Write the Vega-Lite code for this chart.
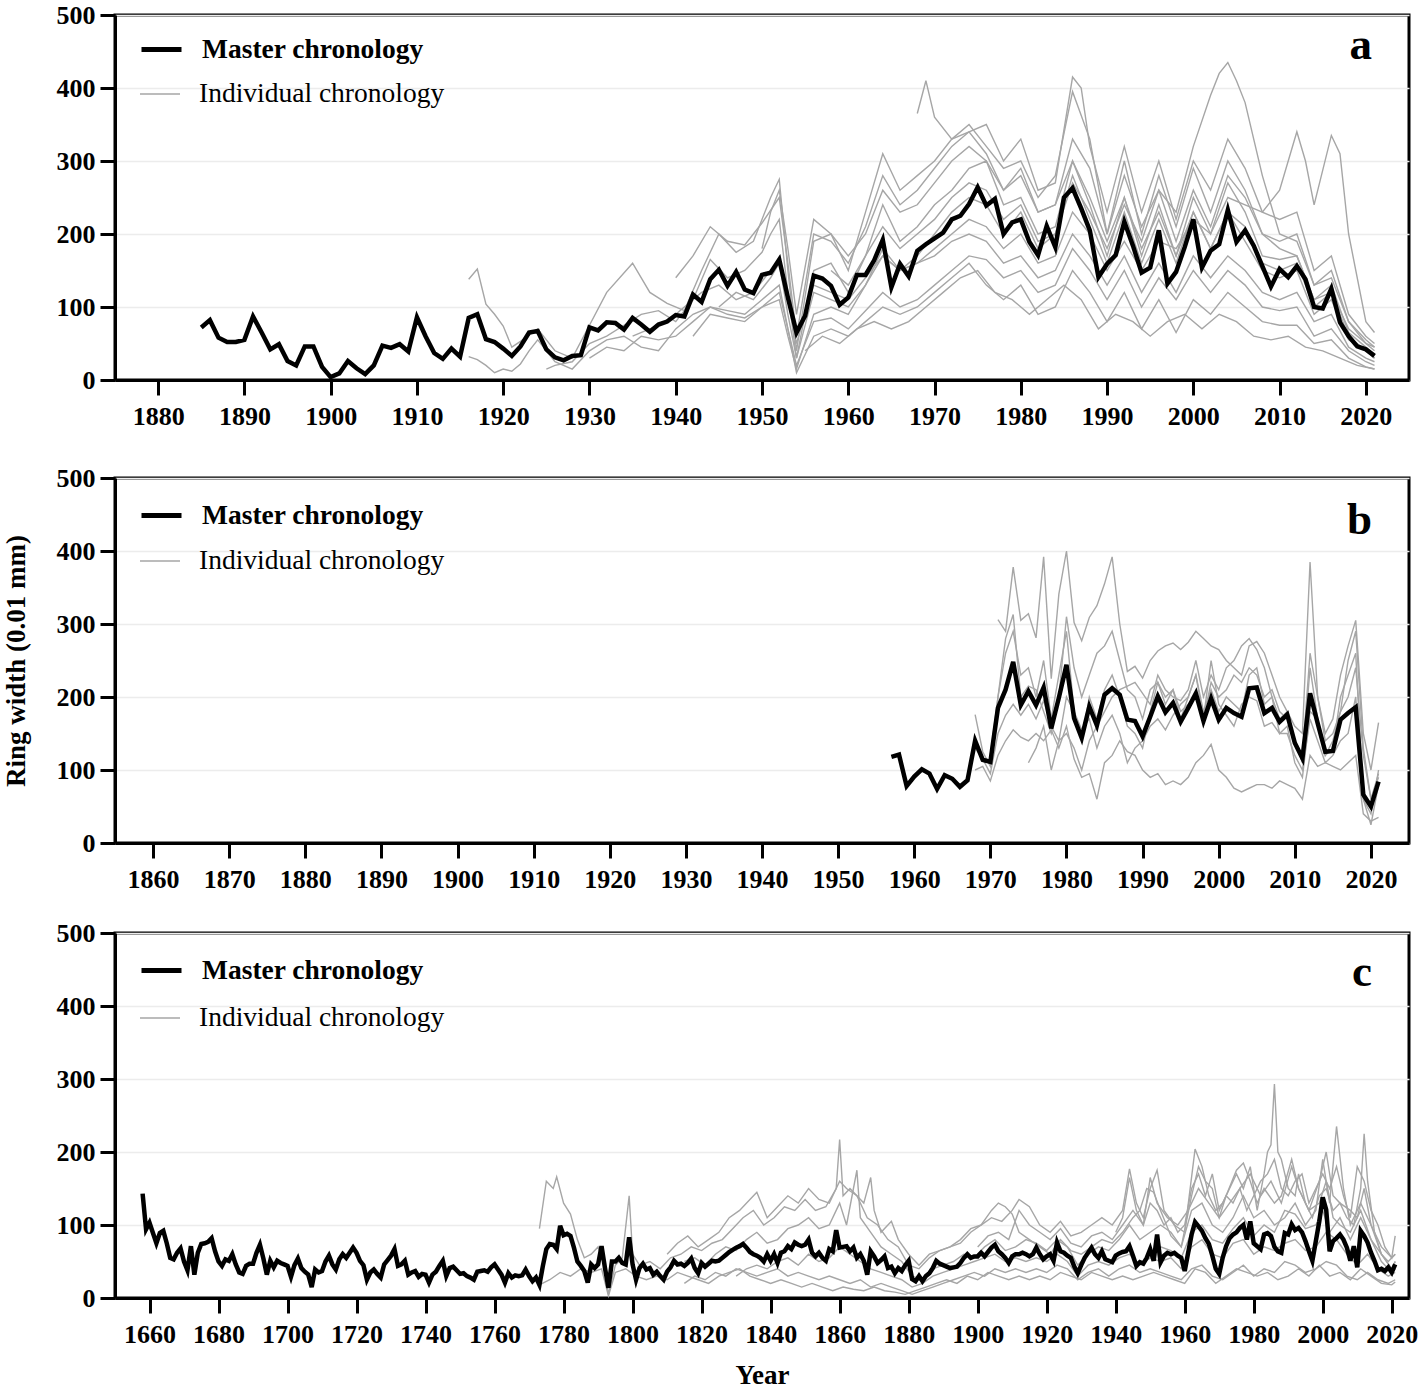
{
"$schema":"https://vega.github.io/schema/vega-lite/v6.json",
"padding":{"left":0,"top":0,"right":12,"bottom":0},
"spacing":24,
"config":{
"font":"Liberation Serif",
"view":{"stroke":"black","strokeWidth":3},
"axis":{"labelFont":"Liberation Serif","labelFontSize":26,"labelFontWeight":"bold","labelColor":"black","domainColor":"black","domainWidth":3,"tickColor":"black","tickWidth":3,"tickSize":15,"titleFont":"Liberation Serif","titleFontSize":27,"titleFontWeight":"bold","titleColor":"black","labelFlush":false,"labelOverlap":false},
"axisY":{"grid":true,"gridColor":"#ececec","gridWidth":1.5,"labelPadding":5,"titlePadding":26},
"axisX":{"grid":false,"labelPadding":8,"titlePadding":15},
"legend":{"orient":"none","legendX":24,"symbolType":"stroke","symbolSize":1600,"labelFontSize":27.5,"labelFont":"Liberation Serif","labelColor":"black","labelOffset":18,"labelLimit":500,"padding":0},
"title":{"anchor":"end","frame":"group","orient":"top","dx":-37,"baseline":"alphabetic","fontSize":45,"font":"Liberation Serif","fontWeight":"bold","color":"black"}
},
"resolve":{"scale":{"color":"independent","stroke":"independent"},"legend":{"color":"independent","stroke":"independent"}},
"datasets":{
"am":[{"x":1885,"y":72},{"x":1886,"y":82},{"x":1887,"y":58},{"x":1888,"y":52},{"x":1889,"y":52},{"x":1890,"y":55},{"x":1891,"y":87},{"x":1892,"y":65},{"x":1893,"y":42},{"x":1894,"y":49},{"x":1895,"y":26},{"x":1896,"y":20},{"x":1897,"y":46},{"x":1898,"y":46},{"x":1899,"y":18},{"x":1900,"y":4},{"x":1901,"y":9},{"x":1902,"y":26},{"x":1903,"y":16},{"x":1904,"y":8},{"x":1905,"y":20},{"x":1906,"y":47},{"x":1907,"y":44},{"x":1908,"y":49},{"x":1909,"y":39},{"x":1910,"y":86},{"x":1911,"y":60},{"x":1912,"y":37},{"x":1913,"y":29},{"x":1914,"y":43},{"x":1915,"y":32},{"x":1916,"y":85},{"x":1917,"y":90},{"x":1918,"y":56},{"x":1919,"y":52},{"x":1920,"y":43},{"x":1921,"y":33},{"x":1922,"y":46},{"x":1923,"y":65},{"x":1924,"y":67},{"x":1925,"y":42},{"x":1926,"y":31},{"x":1927,"y":27},{"x":1928,"y":33},{"x":1929,"y":34},{"x":1930,"y":72},{"x":1931,"y":68},{"x":1932,"y":79},{"x":1933,"y":78},{"x":1934,"y":69},{"x":1935,"y":85},{"x":1936,"y":76},{"x":1937,"y":66},{"x":1938,"y":76},{"x":1939,"y":80},{"x":1940,"y":89},{"x":1941,"y":87},{"x":1942,"y":117},{"x":1943,"y":107},{"x":1944,"y":138},{"x":1945,"y":151},{"x":1946,"y":129},{"x":1947,"y":148},{"x":1948,"y":124},{"x":1949,"y":119},{"x":1950,"y":144},{"x":1951,"y":147},{"x":1952,"y":165},{"x":1953,"y":113},{"x":1954,"y":65},{"x":1955,"y":88},{"x":1956,"y":143},{"x":1957,"y":139},{"x":1958,"y":129},{"x":1959,"y":103},{"x":1960,"y":113},{"x":1961,"y":144},{"x":1962,"y":144},{"x":1963,"y":164},{"x":1964,"y":192},{"x":1965,"y":127},{"x":1966,"y":159},{"x":1967,"y":142},{"x":1968,"y":177},{"x":1969,"y":186},{"x":1970,"y":194},{"x":1971,"y":202},{"x":1972,"y":220},{"x":1973,"y":225},{"x":1974,"y":241},{"x":1975,"y":264},{"x":1976,"y":239},{"x":1977,"y":248},{"x":1978,"y":200},{"x":1979,"y":216},{"x":1980,"y":220},{"x":1981,"y":189},{"x":1982,"y":171},{"x":1983,"y":211},{"x":1984,"y":182},{"x":1985,"y":250},{"x":1986,"y":263},{"x":1987,"y":235},{"x":1988,"y":205},{"x":1989,"y":141},{"x":1990,"y":159},{"x":1991,"y":171},{"x":1992,"y":217},{"x":1993,"y":184},{"x":1994,"y":147},{"x":1995,"y":154},{"x":1996,"y":205},{"x":1997,"y":132},{"x":1998,"y":148},{"x":1999,"y":182},{"x":2000,"y":220},{"x":2001,"y":154},{"x":2002,"y":177},{"x":2003,"y":186},{"x":2004,"y":233},{"x":2005,"y":189},{"x":2006,"y":205},{"x":2007,"y":184},{"x":2008,"y":156},{"x":2009,"y":128},{"x":2010,"y":152},{"x":2011,"y":141},{"x":2012,"y":156},{"x":2013,"y":138},{"x":2014,"y":100},{"x":2015,"y":98},{"x":2016,"y":125},{"x":2017,"y":79},{"x":2018,"y":60},{"x":2019,"y":46},{"x":2020,"y":42},{"x":2021,"y":33}],
"ai":[
{"s":1,"x":1916,"y":138},{"s":1,"x":1917,"y":152},{"s":1,"x":1918,"y":104},{"s":1,"x":1919,"y":90},{"s":1,"x":1920,"y":74},{"s":1,"x":1921,"y":45},{"s":1,"x":1922,"y":53},{"s":1,"x":1924,"y":70},{"s":1,"x":1926,"y":40},{"s":1,"x":1928,"y":30},{"s":1,"x":1930,"y":75},{"s":1,"x":1932,"y":120},{"s":1,"x":1935,"y":160},{"s":1,"x":1937,"y":120},{"s":1,"x":1939,"y":105},{"s":1,"x":1941,"y":95},{"s":1,"x":1943,"y":150},{"s":1,"x":1945,"y":200},{"s":1,"x":1947,"y":175},{"s":1,"x":1949,"y":190},{"s":1,"x":1951,"y":250},{"s":1,"x":1952,"y":275},{"s":1,"x":1953,"y":150},{"s":1,"x":1954,"y":40},{"s":1,"x":1956,"y":190},{"s":1,"x":1958,"y":200},{"s":1,"x":1960,"y":150},{"s":1,"x":1962,"y":230},{"s":1,"x":1964,"y":310},{"s":1,"x":1966,"y":260},{"s":1,"x":1968,"y":280},{"s":1,"x":1970,"y":300},{"s":1,"x":1972,"y":330},{"s":1,"x":1974,"y":350},{"s":1,"x":1976,"y":320},{"s":1,"x":1978,"y":290},{"s":1,"x":1980,"y":300},{"s":1,"x":1982,"y":250},{"s":1,"x":1984,"y":280},{"s":1,"x":1986,"y":395},{"s":1,"x":1988,"y":330},{"s":1,"x":1990,"y":200},{"s":1,"x":1992,"y":280},{"s":1,"x":1994,"y":210},{"s":1,"x":1996,"y":260},{"s":1,"x":1998,"y":190},{"s":1,"x":2000,"y":260},{"s":1,"x":2002,"y":210},{"s":1,"x":2004,"y":280},{"s":1,"x":2006,"y":250},{"s":1,"x":2008,"y":200},{"s":1,"x":2010,"y":180},{"s":1,"x":2012,"y":170},{"s":1,"x":2014,"y":110},{"s":1,"x":2016,"y":120},{"s":1,"x":2018,"y":70},{"s":1,"x":2020,"y":50},{"s":1,"x":2021,"y":45},
{"s":2,"x":1916,"y":32},{"s":2,"x":1917,"y":28},{"s":2,"x":1918,"y":20},{"s":2,"x":1919,"y":10},{"s":2,"x":1920,"y":15},{"s":2,"x":1921,"y":12},{"s":2,"x":1922,"y":22},{"s":2,"x":1923,"y":40},{"s":2,"x":1924,"y":55},{"s":2,"x":1926,"y":25},{"s":2,"x":1928,"y":15},{"s":2,"x":1930,"y":40},{"s":2,"x":1932,"y":55},{"s":2,"x":1934,"y":60},{"s":2,"x":1936,"y":45},{"s":2,"x":1938,"y":40},{"s":2,"x":1940,"y":70},{"s":2,"x":1942,"y":90},{"s":2,"x":1944,"y":100},{"s":2,"x":1946,"y":95},{"s":2,"x":1948,"y":90},{"s":2,"x":1950,"y":110},{"s":2,"x":1952,"y":130},{"s":2,"x":1953,"y":70},{"s":2,"x":1954,"y":20},{"s":2,"x":1956,"y":80},{"s":2,"x":1958,"y":85},{"s":2,"x":1960,"y":70},{"s":2,"x":1962,"y":95},{"s":2,"x":1964,"y":120},{"s":2,"x":1966,"y":100},{"s":2,"x":1968,"y":110},{"s":2,"x":1970,"y":130},{"s":2,"x":1972,"y":150},{"s":2,"x":1974,"y":170},{"s":2,"x":1976,"y":165},{"s":2,"x":1978,"y":140},{"s":2,"x":1980,"y":150},{"s":2,"x":1982,"y":120},{"s":2,"x":1984,"y":130},{"s":2,"x":1986,"y":180},{"s":2,"x":1988,"y":150},{"s":2,"x":1990,"y":110},{"s":2,"x":1992,"y":150},{"s":2,"x":1994,"y":100},{"s":2,"x":1996,"y":140},{"s":2,"x":1998,"y":110},{"s":2,"x":2000,"y":150},{"s":2,"x":2002,"y":120},{"s":2,"x":2004,"y":150},{"s":2,"x":2006,"y":130},{"s":2,"x":2008,"y":100},{"s":2,"x":2010,"y":95},{"s":2,"x":2012,"y":100},{"s":2,"x":2014,"y":60},{"s":2,"x":2016,"y":70},{"s":2,"x":2018,"y":40},{"s":2,"x":2020,"y":25},{"s":2,"x":2021,"y":20},
{"s":3,"x":1925,"y":15},{"s":3,"x":1926,"y":20},{"s":3,"x":1928,"y":25},{"s":3,"x":1930,"y":50},{"s":3,"x":1932,"y":60},{"s":3,"x":1934,"y":75},{"s":3,"x":1936,"y":90},{"s":3,"x":1938,"y":95},{"s":3,"x":1940,"y":80},{"s":3,"x":1942,"y":110},{"s":3,"x":1944,"y":165},{"s":3,"x":1946,"y":140},{"s":3,"x":1948,"y":150},{"s":3,"x":1950,"y":175},{"s":3,"x":1951,"y":200},{"s":3,"x":1952,"y":220},{"s":3,"x":1953,"y":120},{"s":3,"x":1954,"y":30},{"s":3,"x":1956,"y":150},{"s":3,"x":1958,"y":160},{"s":3,"x":1960,"y":120},{"s":3,"x":1962,"y":170},{"s":3,"x":1964,"y":240},{"s":3,"x":1966,"y":190},{"s":3,"x":1968,"y":210},{"s":3,"x":1970,"y":240},{"s":3,"x":1972,"y":260},{"s":3,"x":1974,"y":290},{"s":3,"x":1976,"y":300},{"s":3,"x":1978,"y":240},{"s":3,"x":1980,"y":250},{"s":3,"x":1982,"y":200},{"s":3,"x":1984,"y":210},{"s":3,"x":1986,"y":300},{"s":3,"x":1988,"y":240},{"s":3,"x":1990,"y":170},{"s":3,"x":1992,"y":250},{"s":3,"x":1994,"y":170},{"s":3,"x":1996,"y":240},{"s":3,"x":1998,"y":170},{"s":3,"x":2000,"y":250},{"s":3,"x":2002,"y":200},{"s":3,"x":2004,"y":270},{"s":3,"x":2006,"y":230},{"s":3,"x":2008,"y":170},{"s":3,"x":2010,"y":165},{"s":3,"x":2012,"y":170},{"s":3,"x":2014,"y":110},{"s":3,"x":2016,"y":130},{"s":3,"x":2018,"y":65},{"s":3,"x":2020,"y":45},{"s":3,"x":2021,"y":35},
{"s":4,"x":1930,"y":30},{"s":4,"x":1932,"y":45},{"s":4,"x":1934,"y":40},{"s":4,"x":1936,"y":60},{"s":4,"x":1938,"y":55},{"s":4,"x":1940,"y":60},{"s":4,"x":1942,"y":80},{"s":4,"x":1944,"y":100},{"s":4,"x":1946,"y":90},{"s":4,"x":1948,"y":85},{"s":4,"x":1950,"y":100},{"s":4,"x":1952,"y":120},{"s":4,"x":1953,"y":70},{"s":4,"x":1954,"y":10},{"s":4,"x":1956,"y":60},{"s":4,"x":1958,"y":70},{"s":4,"x":1960,"y":60},{"s":4,"x":1962,"y":80},{"s":4,"x":1964,"y":100},{"s":4,"x":1966,"y":90},{"s":4,"x":1968,"y":100},{"s":4,"x":1970,"y":120},{"s":4,"x":1972,"y":140},{"s":4,"x":1974,"y":160},{"s":4,"x":1976,"y":130},{"s":4,"x":1978,"y":110},{"s":4,"x":1980,"y":130},{"s":4,"x":1982,"y":90},{"s":4,"x":1984,"y":100},{"s":4,"x":1986,"y":150},{"s":4,"x":1988,"y":120},{"s":4,"x":1990,"y":80},{"s":4,"x":1992,"y":120},{"s":4,"x":1994,"y":70},{"s":4,"x":1996,"y":110},{"s":4,"x":1998,"y":65},{"s":4,"x":2000,"y":110},{"s":4,"x":2002,"y":90},{"s":4,"x":2004,"y":120},{"s":4,"x":2006,"y":100},{"s":4,"x":2008,"y":80},{"s":4,"x":2010,"y":75},{"s":4,"x":2012,"y":75},{"s":4,"x":2014,"y":50},{"s":4,"x":2016,"y":55},{"s":4,"x":2018,"y":30},{"s":4,"x":2020,"y":18},{"s":4,"x":2021,"y":15},
{"s":5,"x":1940,"y":140},{"s":5,"x":1942,"y":170},{"s":5,"x":1944,"y":210},{"s":5,"x":1946,"y":190},{"s":5,"x":1948,"y":185},{"s":5,"x":1950,"y":215},{"s":5,"x":1952,"y":250},{"s":5,"x":1953,"y":160},{"s":5,"x":1954,"y":60},{"s":5,"x":1956,"y":200},{"s":5,"x":1958,"y":190},{"s":5,"x":1960,"y":160},{"s":5,"x":1962,"y":210},{"s":5,"x":1964,"y":280},{"s":5,"x":1966,"y":240},{"s":5,"x":1968,"y":260},{"s":5,"x":1970,"y":290},{"s":5,"x":1972,"y":320},{"s":5,"x":1974,"y":340},{"s":5,"x":1976,"y":350},{"s":5,"x":1978,"y":300},{"s":5,"x":1980,"y":330},{"s":5,"x":1982,"y":260},{"s":5,"x":1984,"y":270},{"s":5,"x":1986,"y":415},{"s":5,"x":1987,"y":400},{"s":5,"x":1988,"y":320},{"s":5,"x":1990,"y":230},{"s":5,"x":1992,"y":320},{"s":5,"x":1994,"y":230},{"s":5,"x":1996,"y":300},{"s":5,"x":1998,"y":220},{"s":5,"x":2000,"y":300},{"s":5,"x":2002,"y":260},{"s":5,"x":2004,"y":330},{"s":5,"x":2006,"y":290},{"s":5,"x":2008,"y":230},{"s":5,"x":2010,"y":220},{"s":5,"x":2012,"y":230},{"s":5,"x":2014,"y":150},{"s":5,"x":2016,"y":170},{"s":5,"x":2018,"y":90},{"s":5,"x":2020,"y":60},{"s":5,"x":2021,"y":50},
{"s":6,"x":1942,"y":60},{"s":6,"x":1944,"y":90},{"s":6,"x":1946,"y":85},{"s":6,"x":1948,"y":80},{"s":6,"x":1950,"y":100},{"s":6,"x":1952,"y":110},{"s":6,"x":1953,"y":60},{"s":6,"x":1954,"y":15},{"s":6,"x":1956,"y":90},{"s":6,"x":1958,"y":100},{"s":6,"x":1960,"y":90},{"s":6,"x":1962,"y":130},{"s":6,"x":1964,"y":170},{"s":6,"x":1966,"y":150},{"s":6,"x":1968,"y":170},{"s":6,"x":1970,"y":200},{"s":6,"x":1972,"y":230},{"s":6,"x":1974,"y":250},{"s":6,"x":1976,"y":240},{"s":6,"x":1978,"y":200},{"s":6,"x":1980,"y":230},{"s":6,"x":1982,"y":180},{"s":6,"x":1984,"y":200},{"s":6,"x":1986,"y":270},{"s":6,"x":1988,"y":230},{"s":6,"x":1990,"y":180},{"s":6,"x":1992,"y":240},{"s":6,"x":1994,"y":190},{"s":6,"x":1996,"y":260},{"s":6,"x":1998,"y":230},{"s":6,"x":2000,"y":320},{"s":6,"x":2002,"y":390},{"s":6,"x":2003,"y":420},{"s":6,"x":2004,"y":435},{"s":6,"x":2005,"y":410},{"s":6,"x":2006,"y":380},{"s":6,"x":2008,"y":280},{"s":6,"x":2010,"y":200},{"s":6,"x":2012,"y":190},{"s":6,"x":2014,"y":130},{"s":6,"x":2016,"y":140},{"s":6,"x":2018,"y":80},{"s":6,"x":2020,"y":55},{"s":6,"x":2021,"y":45},
{"s":7,"x":1945,"y":100},{"s":7,"x":1947,"y":120},{"s":7,"x":1949,"y":110},{"s":7,"x":1951,"y":140},{"s":7,"x":1952,"y":160},{"s":7,"x":1953,"y":90},{"s":7,"x":1954,"y":30},{"s":7,"x":1956,"y":120},{"s":7,"x":1958,"y":110},{"s":7,"x":1960,"y":100},{"s":7,"x":1962,"y":130},{"s":7,"x":1964,"y":180},{"s":7,"x":1966,"y":150},{"s":7,"x":1968,"y":160},{"s":7,"x":1970,"y":180},{"s":7,"x":1972,"y":200},{"s":7,"x":1974,"y":220},{"s":7,"x":1976,"y":210},{"s":7,"x":1978,"y":180},{"s":7,"x":1980,"y":200},{"s":7,"x":1982,"y":160},{"s":7,"x":1984,"y":170},{"s":7,"x":1986,"y":230},{"s":7,"x":1988,"y":200},{"s":7,"x":1990,"y":150},{"s":7,"x":1992,"y":190},{"s":7,"x":1994,"y":150},{"s":7,"x":1996,"y":190},{"s":7,"x":1998,"y":180},{"s":7,"x":2000,"y":220},{"s":7,"x":2002,"y":200},{"s":7,"x":2004,"y":250},{"s":7,"x":2006,"y":240},{"s":7,"x":2008,"y":230},{"s":7,"x":2010,"y":260},{"s":7,"x":2012,"y":340},{"s":7,"x":2013,"y":300},{"s":7,"x":2014,"y":240},{"s":7,"x":2016,"y":335},{"s":7,"x":2017,"y":310},{"s":7,"x":2018,"y":200},{"s":7,"x":2020,"y":80},{"s":7,"x":2021,"y":65},
{"s":8,"x":1950,"y":180},{"s":8,"x":1951,"y":230},{"s":8,"x":1952,"y":260},{"s":8,"x":1953,"y":180},{"s":8,"x":1954,"y":90},{"s":8,"x":1956,"y":220},{"s":8,"x":1958,"y":200},{"s":8,"x":1960,"y":170},{"s":8,"x":1962,"y":200},{"s":8,"x":1964,"y":260},{"s":8,"x":1966,"y":230},{"s":8,"x":1968,"y":240},{"s":8,"x":1970,"y":270},{"s":8,"x":1972,"y":300},{"s":8,"x":1974,"y":320},{"s":8,"x":1976,"y":300},{"s":8,"x":1978,"y":260},{"s":8,"x":1980,"y":280},{"s":8,"x":1982,"y":230},{"s":8,"x":1984,"y":240},{"s":8,"x":1986,"y":330},{"s":8,"x":1988,"y":290},{"s":8,"x":1990,"y":200},{"s":8,"x":1992,"y":300},{"s":8,"x":1994,"y":200},{"s":8,"x":1996,"y":280},{"s":8,"x":1998,"y":210},{"s":8,"x":2000,"y":290},{"s":8,"x":2002,"y":230},{"s":8,"x":2004,"y":300},{"s":8,"x":2006,"y":260},{"s":8,"x":2008,"y":200},{"s":8,"x":2010,"y":190},{"s":8,"x":2012,"y":200},{"s":8,"x":2014,"y":130},{"s":8,"x":2016,"y":150},{"s":8,"x":2018,"y":80},{"s":8,"x":2020,"y":50},{"s":8,"x":2021,"y":40},
{"s":9,"x":1955,"y":40},{"s":9,"x":1957,"y":60},{"s":9,"x":1959,"y":50},{"s":9,"x":1961,"y":70},{"s":9,"x":1963,"y":80},{"s":9,"x":1965,"y":70},{"s":9,"x":1967,"y":80},{"s":9,"x":1969,"y":100},{"s":9,"x":1971,"y":120},{"s":9,"x":1973,"y":140},{"s":9,"x":1975,"y":150},{"s":9,"x":1977,"y":120},{"s":9,"x":1979,"y":110},{"s":9,"x":1981,"y":90},{"s":9,"x":1983,"y":110},{"s":9,"x":1985,"y":130},{"s":9,"x":1987,"y":110},{"s":9,"x":1989,"y":70},{"s":9,"x":1991,"y":90},{"s":9,"x":1993,"y":80},{"s":9,"x":1995,"y":60},{"s":9,"x":1997,"y":80},{"s":9,"x":1999,"y":90},{"s":9,"x":2001,"y":70},{"s":9,"x":2003,"y":90},{"s":9,"x":2005,"y":80},{"s":9,"x":2007,"y":60},{"s":9,"x":2009,"y":55},{"s":9,"x":2011,"y":60},{"s":9,"x":2013,"y":45},{"s":9,"x":2015,"y":40},{"s":9,"x":2017,"y":30},{"s":9,"x":2019,"y":20},{"s":9,"x":2021,"y":15},
{"s":10,"x":1968,"y":365},{"s":10,"x":1969,"y":410},{"s":10,"x":1970,"y":360},{"s":10,"x":1972,"y":330},{"s":10,"x":1974,"y":340},{"s":10,"x":1976,"y":310},{"s":10,"x":1978,"y":260},{"s":10,"x":1980,"y":290},{"s":10,"x":1982,"y":230},{"s":10,"x":1984,"y":240},{"s":10,"x":1986,"y":300},{"s":10,"x":1988,"y":250},{"s":10,"x":1990,"y":190},{"s":10,"x":1992,"y":250},{"s":10,"x":1994,"y":180},{"s":10,"x":1996,"y":230},{"s":10,"x":1998,"y":170},{"s":10,"x":2000,"y":230},{"s":10,"x":2002,"y":180},{"s":10,"x":2004,"y":230},{"s":10,"x":2006,"y":190},{"s":10,"x":2008,"y":150},{"s":10,"x":2010,"y":140},{"s":10,"x":2012,"y":150},{"s":10,"x":2014,"y":90},{"s":10,"x":2016,"y":110},{"s":10,"x":2018,"y":55},{"s":10,"x":2020,"y":40},{"s":10,"x":2021,"y":30},
{"s":11,"x":1958,"y":150},{"s":11,"x":1960,"y":130},{"s":11,"x":1962,"y":170},{"s":11,"x":1964,"y":210},{"s":11,"x":1966,"y":180},{"s":11,"x":1968,"y":200},{"s":11,"x":1970,"y":220},{"s":11,"x":1972,"y":250},{"s":11,"x":1974,"y":270},{"s":11,"x":1976,"y":260},{"s":11,"x":1978,"y":220},{"s":11,"x":1980,"y":240},{"s":11,"x":1982,"y":190},{"s":11,"x":1984,"y":200},{"s":11,"x":1986,"y":280},{"s":11,"x":1988,"y":220},{"s":11,"x":1990,"y":160},{"s":11,"x":1992,"y":230},{"s":11,"x":1994,"y":160},{"s":11,"x":1996,"y":220},{"s":11,"x":1998,"y":160},{"s":11,"x":2000,"y":230},{"s":11,"x":2002,"y":180},{"s":11,"x":2004,"y":230},{"s":11,"x":2006,"y":210},{"s":11,"x":2008,"y":160},{"s":11,"x":2010,"y":150},{"s":11,"x":2012,"y":160},{"s":11,"x":2014,"y":100},{"s":11,"x":2016,"y":120},{"s":11,"x":2018,"y":60},{"s":11,"x":2020,"y":40},{"s":11,"x":2021,"y":30},
{"s":12,"x":1935,"y":60},{"s":12,"x":1937,"y":70},{"s":12,"x":1939,"y":80},{"s":12,"x":1941,"y":100},{"s":12,"x":1943,"y":120},{"s":12,"x":1945,"y":130},{"s":12,"x":1947,"y":110},{"s":12,"x":1949,"y":120},{"s":12,"x":1951,"y":150},{"s":12,"x":1952,"y":160},{"s":12,"x":1953,"y":110},{"s":12,"x":1954,"y":50},{"s":12,"x":1956,"y":130},{"s":12,"x":1958,"y":120},{"s":12,"x":1960,"y":110},{"s":12,"x":1962,"y":140},{"s":12,"x":1964,"y":170},{"s":12,"x":1966,"y":150},{"s":12,"x":1968,"y":160},{"s":12,"x":1970,"y":170},{"s":12,"x":1972,"y":190},{"s":12,"x":1974,"y":200},{"s":12,"x":1976,"y":190},{"s":12,"x":1978,"y":160},{"s":12,"x":1980,"y":170},{"s":12,"x":1982,"y":140},{"s":12,"x":1984,"y":150},{"s":12,"x":1986,"y":200},{"s":12,"x":1988,"y":170},{"s":12,"x":1990,"y":130},{"s":12,"x":1992,"y":170},{"s":12,"x":1994,"y":120},{"s":12,"x":1996,"y":160},{"s":12,"x":1998,"y":120},{"s":12,"x":2000,"y":170},{"s":12,"x":2002,"y":140},{"s":12,"x":2004,"y":170},{"s":12,"x":2006,"y":150},{"s":12,"x":2008,"y":120},{"s":12,"x":2010,"y":110},{"s":12,"x":2012,"y":120},{"s":12,"x":2014,"y":80},{"s":12,"x":2016,"y":90},{"s":12,"x":2018,"y":45},{"s":12,"x":2020,"y":30},{"s":12,"x":2021,"y":25}],
"bm":[{"x":1957,"y":118},{"x":1958,"y":121},{"x":1959,"y":78},{"x":1960,"y":91},{"x":1961,"y":101},{"x":1962,"y":95},{"x":1963,"y":74},{"x":1964,"y":93},{"x":1965,"y":88},{"x":1966,"y":77},{"x":1967,"y":86},{"x":1968,"y":140},{"x":1969,"y":114},{"x":1970,"y":111},{"x":1971,"y":185},{"x":1972,"y":210},{"x":1973,"y":248},{"x":1974,"y":189},{"x":1975,"y":208},{"x":1976,"y":189},{"x":1977,"y":213},{"x":1978,"y":157},{"x":1979,"y":199},{"x":1980,"y":244},{"x":1981,"y":171},{"x":1982,"y":144},{"x":1983,"y":187},{"x":1984,"y":161},{"x":1985,"y":203},{"x":1986,"y":212},{"x":1987,"y":203},{"x":1988,"y":169},{"x":1989,"y":167},{"x":1990,"y":146},{"x":1991,"y":173},{"x":1992,"y":201},{"x":1993,"y":179},{"x":1994,"y":192},{"x":1995,"y":166},{"x":1996,"y":185},{"x":1997,"y":205},{"x":1998,"y":167},{"x":1999,"y":198},{"x":2000,"y":169},{"x":2001,"y":185},{"x":2002,"y":178},{"x":2003,"y":173},{"x":2004,"y":212},{"x":2005,"y":213},{"x":2006,"y":178},{"x":2007,"y":185},{"x":2008,"y":166},{"x":2009,"y":176},{"x":2010,"y":137},{"x":2011,"y":116},{"x":2012,"y":205},{"x":2013,"y":164},{"x":2014,"y":125},{"x":2015,"y":126},{"x":2016,"y":169},{"x":2017,"y":178},{"x":2018,"y":186},{"x":2019,"y":66},{"x":2020,"y":50},{"x":2021,"y":84}],
"bi":[
{"s":1,"x":1968,"y":176},{"s":1,"x":1969,"y":125},{"s":1,"x":1970,"y":105},{"s":1,"x":1971,"y":200},{"s":1,"x":1972,"y":260},{"s":1,"x":1973,"y":290},{"s":1,"x":1974,"y":230},{"s":1,"x":1975,"y":240},{"s":1,"x":1976,"y":200},{"s":1,"x":1977,"y":250},{"s":1,"x":1978,"y":170},{"s":1,"x":1979,"y":230},{"s":1,"x":1980,"y":290},{"s":1,"x":1981,"y":180},{"s":1,"x":1982,"y":140},{"s":1,"x":1983,"y":200},{"s":1,"x":1984,"y":170},{"s":1,"x":1985,"y":210},{"s":1,"x":1986,"y":230},{"s":1,"x":1987,"y":200},{"s":1,"x":1988,"y":160},{"s":1,"x":1989,"y":150},{"s":1,"x":1990,"y":130},{"s":1,"x":1991,"y":180},{"s":1,"x":1992,"y":220},{"s":1,"x":1993,"y":190},{"s":1,"x":1994,"y":210},{"s":1,"x":1995,"y":170},{"s":1,"x":1996,"y":200},{"s":1,"x":1997,"y":230},{"s":1,"x":1998,"y":180},{"s":1,"x":1999,"y":210},{"s":1,"x":2000,"y":180},{"s":1,"x":2001,"y":200},{"s":1,"x":2002,"y":190},{"s":1,"x":2003,"y":180},{"s":1,"x":2004,"y":230},{"s":1,"x":2005,"y":240},{"s":1,"x":2006,"y":190},{"s":1,"x":2007,"y":200},{"s":1,"x":2008,"y":170},{"s":1,"x":2009,"y":180},{"s":1,"x":2010,"y":140},{"s":1,"x":2011,"y":110},{"s":1,"x":2012,"y":240},{"s":1,"x":2013,"y":170},{"s":1,"x":2014,"y":120},{"s":1,"x":2015,"y":130},{"s":1,"x":2016,"y":200},{"s":1,"x":2017,"y":230},{"s":1,"x":2018,"y":260},{"s":1,"x":2019,"y":60},{"s":1,"x":2020,"y":40},{"s":1,"x":2021,"y":100},
{"s":2,"x":1971,"y":306},{"s":2,"x":1972,"y":290},{"s":2,"x":1973,"y":378},{"s":2,"x":1974,"y":305},{"s":2,"x":1975,"y":314},{"s":2,"x":1976,"y":281},{"s":2,"x":1977,"y":392},{"s":2,"x":1978,"y":225},{"s":2,"x":1979,"y":341},{"s":2,"x":1980,"y":400},{"s":2,"x":1981,"y":302},{"s":2,"x":1982,"y":277},{"s":2,"x":1983,"y":309},{"s":2,"x":1984,"y":325},{"s":2,"x":1985,"y":355},{"s":2,"x":1986,"y":392},{"s":2,"x":1987,"y":300},{"s":2,"x":1988,"y":235},{"s":2,"x":1989,"y":242},{"s":2,"x":1990,"y":226},{"s":2,"x":1991,"y":250},{"s":2,"x":1992,"y":263},{"s":2,"x":1993,"y":270},{"s":2,"x":1994,"y":274},{"s":2,"x":1995,"y":265},{"s":2,"x":1996,"y":275},{"s":2,"x":1997,"y":290},{"s":2,"x":1998,"y":280},{"s":2,"x":1999,"y":270},{"s":2,"x":2000,"y":265},{"s":2,"x":2001,"y":250},{"s":2,"x":2002,"y":240},{"s":2,"x":2003,"y":230},{"s":2,"x":2004,"y":270},{"s":2,"x":2005,"y":276},{"s":2,"x":2006,"y":260},{"s":2,"x":2007,"y":230},{"s":2,"x":2008,"y":200},{"s":2,"x":2009,"y":180},{"s":2,"x":2010,"y":160},{"s":2,"x":2011,"y":150},{"s":2,"x":2012,"y":385},{"s":2,"x":2013,"y":200},{"s":2,"x":2014,"y":150},{"s":2,"x":2015,"y":170},{"s":2,"x":2016,"y":230},{"s":2,"x":2017,"y":270},{"s":2,"x":2018,"y":305},{"s":2,"x":2019,"y":150},{"s":2,"x":2020,"y":100},{"s":2,"x":2021,"y":165},
{"s":3,"x":1970,"y":120},{"s":3,"x":1971,"y":200},{"s":3,"x":1972,"y":280},{"s":3,"x":1973,"y":313},{"s":3,"x":1974,"y":200},{"s":3,"x":1975,"y":215},{"s":3,"x":1976,"y":210},{"s":3,"x":1977,"y":180},{"s":3,"x":1978,"y":150},{"s":3,"x":1979,"y":200},{"s":3,"x":1980,"y":310},{"s":3,"x":1981,"y":240},{"s":3,"x":1982,"y":200},{"s":3,"x":1983,"y":230},{"s":3,"x":1984,"y":260},{"s":3,"x":1985,"y":270},{"s":3,"x":1986,"y":290},{"s":3,"x":1987,"y":250},{"s":3,"x":1988,"y":210},{"s":3,"x":1989,"y":200},{"s":3,"x":1990,"y":170},{"s":3,"x":1991,"y":210},{"s":3,"x":1992,"y":220},{"s":3,"x":1993,"y":200},{"s":3,"x":1994,"y":210},{"s":3,"x":1995,"y":180},{"s":3,"x":1996,"y":190},{"s":3,"x":1997,"y":200},{"s":3,"x":1998,"y":170},{"s":3,"x":1999,"y":220},{"s":3,"x":2000,"y":200},{"s":3,"x":2001,"y":210},{"s":3,"x":2002,"y":230},{"s":3,"x":2003,"y":220},{"s":3,"x":2004,"y":240},{"s":3,"x":2005,"y":230},{"s":3,"x":2006,"y":200},{"s":3,"x":2007,"y":210},{"s":3,"x":2008,"y":180},{"s":3,"x":2009,"y":170},{"s":3,"x":2010,"y":140},{"s":3,"x":2011,"y":120},{"s":3,"x":2012,"y":260},{"s":3,"x":2013,"y":200},{"s":3,"x":2014,"y":140},{"s":3,"x":2015,"y":150},{"s":3,"x":2016,"y":180},{"s":3,"x":2017,"y":200},{"s":3,"x":2018,"y":240},{"s":3,"x":2019,"y":120},{"s":3,"x":2020,"y":60},{"s":3,"x":2021,"y":95},
{"s":4,"x":1968,"y":100},{"s":4,"x":1969,"y":105},{"s":4,"x":1970,"y":85},{"s":4,"x":1971,"y":120},{"s":4,"x":1972,"y":140},{"s":4,"x":1973,"y":155},{"s":4,"x":1974,"y":145},{"s":4,"x":1975,"y":140},{"s":4,"x":1976,"y":150},{"s":4,"x":1977,"y":140},{"s":4,"x":1978,"y":155},{"s":4,"x":1979,"y":130},{"s":4,"x":1980,"y":160},{"s":4,"x":1981,"y":115},{"s":4,"x":1982,"y":90},{"s":4,"x":1983,"y":95},{"s":4,"x":1984,"y":60},{"s":4,"x":1985,"y":110},{"s":4,"x":1986,"y":120},{"s":4,"x":1987,"y":140},{"s":4,"x":1988,"y":125},{"s":4,"x":1989,"y":120},{"s":4,"x":1990,"y":100},{"s":4,"x":1991,"y":90},{"s":4,"x":1992,"y":95},{"s":4,"x":1993,"y":80},{"s":4,"x":1994,"y":85},{"s":4,"x":1995,"y":80},{"s":4,"x":1996,"y":90},{"s":4,"x":1997,"y":110},{"s":4,"x":1998,"y":120},{"s":4,"x":1999,"y":135},{"s":4,"x":2000,"y":100},{"s":4,"x":2001,"y":90},{"s":4,"x":2002,"y":75},{"s":4,"x":2003,"y":70},{"s":4,"x":2004,"y":75},{"s":4,"x":2005,"y":80},{"s":4,"x":2006,"y":80},{"s":4,"x":2007,"y":75},{"s":4,"x":2008,"y":85},{"s":4,"x":2009,"y":80},{"s":4,"x":2010,"y":75},{"s":4,"x":2011,"y":60},{"s":4,"x":2012,"y":120},{"s":4,"x":2013,"y":105},{"s":4,"x":2014,"y":110},{"s":4,"x":2015,"y":105},{"s":4,"x":2016,"y":100},{"s":4,"x":2017,"y":110},{"s":4,"x":2018,"y":120},{"s":4,"x":2019,"y":40},{"s":4,"x":2020,"y":30},{"s":4,"x":2021,"y":35},
{"s":5,"x":1968,"y":130},{"s":5,"x":1969,"y":115},{"s":5,"x":1970,"y":95},{"s":5,"x":1971,"y":150},{"s":5,"x":1972,"y":175},{"s":5,"x":1973,"y":190},{"s":5,"x":1974,"y":175},{"s":5,"x":1975,"y":190},{"s":5,"x":1976,"y":170},{"s":5,"x":1977,"y":195},{"s":5,"x":1978,"y":160},{"s":5,"x":1979,"y":140},{"s":5,"x":1980,"y":200},{"s":5,"x":1981,"y":180},{"s":5,"x":1982,"y":155},{"s":5,"x":1983,"y":170},{"s":5,"x":1984,"y":130},{"s":5,"x":1985,"y":160},{"s":5,"x":1986,"y":175},{"s":5,"x":1987,"y":150},{"s":5,"x":1988,"y":110},{"s":5,"x":1989,"y":130},{"s":5,"x":1990,"y":140},{"s":5,"x":1991,"y":160},{"s":5,"x":1992,"y":170},{"s":5,"x":1993,"y":155},{"s":5,"x":1994,"y":175},{"s":5,"x":1995,"y":190},{"s":5,"x":1996,"y":200},{"s":5,"x":1997,"y":230},{"s":5,"x":1998,"y":170},{"s":5,"x":1999,"y":250},{"s":5,"x":2000,"y":190},{"s":5,"x":2001,"y":175},{"s":5,"x":2002,"y":160},{"s":5,"x":2003,"y":190},{"s":5,"x":2004,"y":200},{"s":5,"x":2005,"y":195},{"s":5,"x":2006,"y":160},{"s":5,"x":2007,"y":165},{"s":5,"x":2008,"y":150},{"s":5,"x":2009,"y":150},{"s":5,"x":2010,"y":120},{"s":5,"x":2011,"y":100},{"s":5,"x":2012,"y":170},{"s":5,"x":2013,"y":140},{"s":5,"x":2014,"y":110},{"s":5,"x":2015,"y":120},{"s":5,"x":2016,"y":140},{"s":5,"x":2017,"y":150},{"s":5,"x":2018,"y":200},{"s":5,"x":2019,"y":60},{"s":5,"x":2020,"y":25},{"s":5,"x":2021,"y":80},
{"s":6,"x":1975,"y":110},{"s":6,"x":1976,"y":130},{"s":6,"x":1977,"y":160},{"s":6,"x":1978,"y":100},{"s":6,"x":1979,"y":140},{"s":6,"x":1980,"y":150},{"s":6,"x":1981,"y":130},{"s":6,"x":1982,"y":100},{"s":6,"x":1983,"y":140},{"s":6,"x":1984,"y":160},{"s":6,"x":1985,"y":180},{"s":6,"x":1986,"y":200},{"s":6,"x":1987,"y":210},{"s":6,"x":1988,"y":215},{"s":6,"x":1989,"y":220},{"s":6,"x":1990,"y":205},{"s":6,"x":1991,"y":190},{"s":6,"x":1992,"y":230},{"s":6,"x":1993,"y":210},{"s":6,"x":1994,"y":200},{"s":6,"x":1995,"y":195},{"s":6,"x":1996,"y":210},{"s":6,"x":1997,"y":250},{"s":6,"x":1998,"y":200},{"s":6,"x":1999,"y":230},{"s":6,"x":2000,"y":210},{"s":6,"x":2001,"y":240},{"s":6,"x":2002,"y":250},{"s":6,"x":2003,"y":270},{"s":6,"x":2004,"y":280},{"s":6,"x":2005,"y":265},{"s":6,"x":2006,"y":240},{"s":6,"x":2007,"y":200},{"s":6,"x":2008,"y":150},{"s":6,"x":2009,"y":160},{"s":6,"x":2010,"y":110},{"s":6,"x":2011,"y":90},{"s":6,"x":2012,"y":180},{"s":6,"x":2013,"y":170},{"s":6,"x":2014,"y":120},{"s":6,"x":2015,"y":140},{"s":6,"x":2016,"y":180},{"s":6,"x":2017,"y":250},{"s":6,"x":2018,"y":290},{"s":6,"x":2019,"y":130},{"s":6,"x":2020,"y":60},{"s":6,"x":2021,"y":90}],
"cm":[{"x":1658,"y":143},{"x":1659,"y":94},{"x":1660,"y":103},{"x":1661,"y":89},{"x":1662,"y":75},{"x":1663,"y":89},{"x":1664,"y":92},{"x":1665,"y":75},{"x":1666,"y":55},{"x":1667,"y":53},{"x":1668,"y":62},{"x":1669,"y":68},{"x":1670,"y":50},{"x":1671,"y":38},{"x":1672,"y":71},{"x":1673,"y":32},{"x":1674,"y":62},{"x":1675,"y":74},{"x":1676,"y":75},{"x":1677,"y":77},{"x":1678,"y":82},{"x":1679,"y":64},{"x":1680,"y":50},{"x":1681,"y":44},{"x":1682,"y":53},{"x":1683,"y":51},{"x":1684,"y":60},{"x":1685,"y":46},{"x":1686,"y":35},{"x":1687,"y":33},{"x":1688,"y":44},{"x":1689,"y":47},{"x":1690,"y":47},{"x":1691,"y":62},{"x":1692,"y":73},{"x":1693,"y":54},{"x":1694,"y":32},{"x":1695,"y":51},{"x":1696,"y":42},{"x":1697,"y":51},{"x":1698,"y":48},{"x":1699,"y":46},{"x":1700,"y":44},{"x":1701,"y":29},{"x":1702,"y":45},{"x":1703,"y":54},{"x":1704,"y":41},{"x":1705,"y":36},{"x":1706,"y":32},{"x":1707,"y":15},{"x":1708,"y":39},{"x":1709,"y":35},{"x":1710,"y":37},{"x":1711,"y":50},{"x":1712,"y":58},{"x":1713,"y":46},{"x":1714,"y":39},{"x":1715,"y":53},{"x":1716,"y":60},{"x":1717,"y":55},{"x":1718,"y":62},{"x":1719,"y":69},{"x":1720,"y":62},{"x":1721,"y":51},{"x":1722,"y":45},{"x":1723,"y":25},{"x":1724,"y":35},{"x":1725,"y":39},{"x":1726,"y":33},{"x":1727,"y":28},{"x":1728,"y":46},{"x":1729,"y":52},{"x":1730,"y":58},{"x":1731,"y":67},{"x":1732,"y":44},{"x":1733,"y":46},{"x":1734,"y":51},{"x":1735,"y":32},{"x":1736,"y":35},{"x":1737,"y":37},{"x":1738,"y":29},{"x":1739,"y":33},{"x":1740,"y":32},{"x":1741,"y":21},{"x":1742,"y":32},{"x":1743,"y":36},{"x":1744,"y":44},{"x":1745,"y":51},{"x":1746,"y":30},{"x":1747,"y":41},{"x":1748,"y":43},{"x":1749,"y":38},{"x":1750,"y":33},{"x":1751,"y":34},{"x":1752,"y":30},{"x":1753,"y":28},{"x":1754,"y":25},{"x":1755,"y":36},{"x":1756,"y":37},{"x":1757,"y":38},{"x":1758,"y":36},{"x":1759,"y":42},{"x":1760,"y":46},{"x":1761,"y":39},{"x":1762,"y":32},{"x":1763,"y":21},{"x":1764,"y":34},{"x":1765,"y":28},{"x":1766,"y":31},{"x":1767,"y":30},{"x":1768,"y":31},{"x":1769,"y":39},{"x":1770,"y":30},{"x":1771,"y":23},{"x":1772,"y":28},{"x":1773,"y":18},{"x":1774,"y":44},{"x":1775,"y":67},{"x":1776,"y":74},{"x":1777,"y":73},{"x":1778,"y":67},{"x":1779,"y":99},{"x":1780,"y":86},{"x":1781,"y":88},{"x":1782,"y":85},{"x":1783,"y":69},{"x":1784,"y":50},{"x":1785,"y":44},{"x":1786,"y":37},{"x":1787,"y":21},{"x":1788,"y":46},{"x":1789,"y":41},{"x":1790,"y":46},{"x":1791,"y":71},{"x":1792,"y":41},{"x":1793,"y":14},{"x":1794,"y":50},{"x":1795,"y":50},{"x":1796,"y":55},{"x":1797,"y":48},{"x":1798,"y":46},{"x":1799,"y":83},{"x":1800,"y":46},{"x":1801,"y":25},{"x":1802,"y":41},{"x":1803,"y":47},{"x":1804,"y":39},{"x":1805,"y":41},{"x":1806,"y":32},{"x":1807,"y":36},{"x":1808,"y":30},{"x":1809,"y":25},{"x":1810,"y":36},{"x":1811,"y":42},{"x":1812,"y":51},{"x":1813,"y":46},{"x":1814,"y":47},{"x":1815,"y":44},{"x":1816,"y":48},{"x":1817,"y":54},{"x":1818,"y":41},{"x":1819,"y":34},{"x":1820,"y":48},{"x":1821,"y":43},{"x":1822,"y":47},{"x":1823,"y":51},{"x":1824,"y":50},{"x":1825,"y":51},{"x":1826,"y":55},{"x":1827,"y":59},{"x":1828,"y":63},{"x":1829,"y":66},{"x":1830,"y":69},{"x":1831,"y":71},{"x":1832,"y":74},{"x":1833,"y":69},{"x":1834,"y":63},{"x":1835,"y":60},{"x":1836,"y":58},{"x":1837,"y":55},{"x":1838,"y":50},{"x":1839,"y":60},{"x":1840,"y":51},{"x":1841,"y":60},{"x":1842,"y":48},{"x":1843,"y":62},{"x":1844,"y":64},{"x":1845,"y":71},{"x":1846,"y":67},{"x":1847,"y":76},{"x":1848,"y":73},{"x":1849,"y":71},{"x":1850,"y":73},{"x":1851,"y":80},{"x":1852,"y":62},{"x":1853,"y":57},{"x":1854,"y":62},{"x":1855,"y":55},{"x":1856,"y":51},{"x":1857,"y":67},{"x":1858,"y":64},{"x":1859,"y":93},{"x":1860,"y":69},{"x":1861,"y":70},{"x":1862,"y":71},{"x":1863,"y":64},{"x":1864,"y":69},{"x":1865,"y":55},{"x":1866,"y":60},{"x":1867,"y":51},{"x":1868,"y":32},{"x":1869,"y":64},{"x":1870,"y":57},{"x":1871,"y":48},{"x":1872,"y":52},{"x":1873,"y":57},{"x":1874,"y":41},{"x":1875,"y":43},{"x":1876,"y":34},{"x":1877,"y":41},{"x":1878,"y":37},{"x":1879,"y":45},{"x":1880,"y":51},{"x":1881,"y":26},{"x":1882,"y":23},{"x":1883,"y":30},{"x":1884,"y":23},{"x":1885,"y":30},{"x":1886,"y":34},{"x":1887,"y":41},{"x":1888,"y":51},{"x":1889,"y":47},{"x":1890,"y":45},{"x":1891,"y":43},{"x":1892,"y":41},{"x":1893,"y":42},{"x":1894,"y":43},{"x":1895,"y":48},{"x":1896,"y":55},{"x":1897,"y":60},{"x":1898,"y":55},{"x":1899,"y":57},{"x":1900,"y":57},{"x":1901,"y":62},{"x":1902,"y":57},{"x":1903,"y":63},{"x":1904,"y":69},{"x":1905,"y":73},{"x":1906,"y":64},{"x":1907,"y":60},{"x":1908,"y":55},{"x":1909,"y":48},{"x":1910,"y":57},{"x":1911,"y":60},{"x":1912,"y":60},{"x":1913,"y":62},{"x":1914,"y":60},{"x":1915,"y":57},{"x":1916,"y":60},{"x":1917,"y":69},{"x":1918,"y":60},{"x":1919,"y":53},{"x":1920,"y":57},{"x":1921,"y":60},{"x":1922,"y":51},{"x":1923,"y":76},{"x":1924,"y":64},{"x":1925,"y":62},{"x":1926,"y":58},{"x":1927,"y":55},{"x":1928,"y":43},{"x":1929,"y":34},{"x":1930,"y":45},{"x":1931,"y":55},{"x":1932,"y":62},{"x":1933,"y":69},{"x":1934,"y":60},{"x":1935,"y":55},{"x":1936,"y":64},{"x":1937,"y":53},{"x":1938,"y":51},{"x":1939,"y":49},{"x":1940,"y":58},{"x":1941,"y":61},{"x":1942,"y":63},{"x":1943,"y":64},{"x":1944,"y":71},{"x":1945,"y":58},{"x":1946,"y":44},{"x":1947,"y":49},{"x":1948,"y":47},{"x":1949,"y":55},{"x":1950,"y":67},{"x":1951,"y":51},{"x":1952,"y":87},{"x":1953,"y":49},{"x":1954,"y":58},{"x":1955,"y":62},{"x":1956,"y":60},{"x":1957,"y":62},{"x":1958,"y":58},{"x":1959,"y":55},{"x":1960,"y":37},{"x":1961,"y":62},{"x":1962,"y":87},{"x":1963,"y":104},{"x":1964,"y":98},{"x":1965,"y":92},{"x":1966,"y":82},{"x":1967,"y":74},{"x":1968,"y":58},{"x":1969,"y":40},{"x":1970,"y":33},{"x":1971,"y":55},{"x":1972,"y":71},{"x":1973,"y":82},{"x":1974,"y":87},{"x":1975,"y":90},{"x":1976,"y":96},{"x":1977,"y":100},{"x":1978,"y":80},{"x":1979,"y":105},{"x":1980,"y":75},{"x":1981,"y":71},{"x":1982,"y":67},{"x":1983,"y":87},{"x":1984,"y":89},{"x":1985,"y":85},{"x":1986,"y":70},{"x":1987,"y":64},{"x":1988,"y":62},{"x":1989,"y":89},{"x":1990,"y":87},{"x":1991,"y":101},{"x":1992,"y":93},{"x":1993,"y":96},{"x":1994,"y":90},{"x":1995,"y":78},{"x":1996,"y":64},{"x":1997,"y":51},{"x":1998,"y":78},{"x":1999,"y":105},{"x":2000,"y":138},{"x":2001,"y":121},{"x":2002,"y":64},{"x":2003,"y":78},{"x":2004,"y":82},{"x":2005,"y":87},{"x":2006,"y":80},{"x":2007,"y":69},{"x":2008,"y":51},{"x":2009,"y":71},{"x":2010,"y":42},{"x":2011,"y":92},{"x":2012,"y":85},{"x":2013,"y":76},{"x":2014,"y":62},{"x":2015,"y":51},{"x":2016,"y":38},{"x":2017,"y":40},{"x":2018,"y":37},{"x":2019,"y":42},{"x":2020,"y":35},{"x":2021,"y":46}],
"ci":[
{"s":1,"x":1773,"y":95},{"s":1,"x":1775,"y":160},{"s":1,"x":1777,"y":150},{"s":1,"x":1778,"y":166},{"s":1,"x":1780,"y":130},{"s":1,"x":1782,"y":115},{"s":1,"x":1784,"y":80},{"s":1,"x":1786,"y":55},{"s":1,"x":1788,"y":60},{"s":1,"x":1790,"y":70},{"s":1,"x":1792,"y":40},{"s":1,"x":1793,"y":5},{"s":1,"x":1795,"y":45},{"s":1,"x":1797,"y":55},{"s":1,"x":1799,"y":140},{"s":1,"x":1800,"y":60},{"s":1,"x":1802,"y":45},{"s":1,"x":1805,"y":50},{"s":1,"x":1808,"y":40},{"s":1,"x":1811,"y":55},{"s":1,"x":1814,"y":60},{"s":1,"x":1817,"y":70},{"s":1,"x":1820,"y":65},{"s":1,"x":1823,"y":75},{"s":1,"x":1826,"y":80},{"s":1,"x":1829,"y":95},{"s":1,"x":1832,"y":110},{"s":1,"x":1835,"y":120},{"s":1,"x":1838,"y":100},{"s":1,"x":1841,"y":110},{"s":1,"x":1844,"y":125},{"s":1,"x":1847,"y":120},{"s":1,"x":1850,"y":135},{"s":1,"x":1853,"y":120},{"s":1,"x":1856,"y":125},{"s":1,"x":1859,"y":150},{"s":1,"x":1860,"y":217},{"s":1,"x":1861,"y":140},{"s":1,"x":1863,"y":150},{"s":1,"x":1865,"y":140},{"s":1,"x":1867,"y":130},{"s":1,"x":1869,"y":165},{"s":1,"x":1870,"y":120},{"s":1,"x":1872,"y":90},{"s":1,"x":1875,"y":105},{"s":1,"x":1877,"y":80},{"s":1,"x":1880,"y":60},{"s":1,"x":1883,"y":45},{"s":1,"x":1886,"y":60},{"s":1,"x":1889,"y":65},{"s":1,"x":1892,"y":70},{"s":1,"x":1895,"y":75},{"s":1,"x":1898,"y":90},{"s":1,"x":1901,"y":100},{"s":1,"x":1904,"y":120},{"s":1,"x":1906,"y":130},{"s":1,"x":1908,"y":125},{"s":1,"x":1910,"y":115},{"s":1,"x":1912,"y":90},{"s":1,"x":1915,"y":80},{"s":1,"x":1918,"y":70},{"s":1,"x":1921,"y":60},{"s":1,"x":1924,"y":80},{"s":1,"x":1927,"y":65},{"s":1,"x":1930,"y":60},{"s":1,"x":1933,"y":70},{"s":1,"x":1936,"y":80},{"s":1,"x":1939,"y":75},{"s":1,"x":1942,"y":90},{"s":1,"x":1945,"y":110},{"s":1,"x":1947,"y":120},{"s":1,"x":1949,"y":150},{"s":1,"x":1951,"y":145},{"s":1,"x":1953,"y":120},{"s":1,"x":1956,"y":85},{"s":1,"x":1959,"y":70},{"s":1,"x":1962,"y":140},{"s":1,"x":1964,"y":180},{"s":1,"x":1966,"y":160},{"s":1,"x":1968,"y":150},{"s":1,"x":1970,"y":110},{"s":1,"x":1972,"y":140},{"s":1,"x":1975,"y":175},{"s":1,"x":1977,"y":185},{"s":1,"x":1979,"y":160},{"s":1,"x":1981,"y":130},{"s":1,"x":1983,"y":150},{"s":1,"x":1986,"y":130},{"s":1,"x":1988,"y":140},{"s":1,"x":1991,"y":190},{"s":1,"x":1993,"y":150},{"s":1,"x":1996,"y":120},{"s":1,"x":1999,"y":130},{"s":1,"x":2001,"y":160},{"s":1,"x":2003,"y":110},{"s":1,"x":2005,"y":100},{"s":1,"x":2008,"y":90},{"s":1,"x":2011,"y":120},{"s":1,"x":2014,"y":80},{"s":1,"x":2017,"y":60},{"s":1,"x":2020,"y":40},{"s":1,"x":2021,"y":50},
{"s":2,"x":1773,"y":18},{"s":2,"x":1776,"y":25},{"s":2,"x":1779,"y":35},{"s":2,"x":1782,"y":30},{"s":2,"x":1785,"y":40},{"s":2,"x":1788,"y":35},{"s":2,"x":1791,"y":40},{"s":2,"x":1793,"y":3},{"s":2,"x":1795,"y":35},{"s":2,"x":1798,"y":40},{"s":2,"x":1801,"y":30},{"s":2,"x":1804,"y":25},{"s":2,"x":1807,"y":30},{"s":2,"x":1810,"y":25},{"s":2,"x":1813,"y":35},{"s":2,"x":1816,"y":30},{"s":2,"x":1819,"y":25},{"s":2,"x":1822,"y":20},{"s":2,"x":1825,"y":30},{"s":2,"x":1828,"y":35},{"s":2,"x":1831,"y":40},{"s":2,"x":1834,"y":30},{"s":2,"x":1837,"y":25},{"s":2,"x":1840,"y":20},{"s":2,"x":1843,"y":25},{"s":2,"x":1846,"y":20},{"s":2,"x":1849,"y":15},{"s":2,"x":1852,"y":20},{"s":2,"x":1855,"y":15},{"s":2,"x":1858,"y":10},{"s":2,"x":1861,"y":15},{"s":2,"x":1864,"y":12},{"s":2,"x":1867,"y":10},{"s":2,"x":1870,"y":15},{"s":2,"x":1873,"y":10},{"s":2,"x":1876,"y":8},{"s":2,"x":1879,"y":5},{"s":2,"x":1882,"y":10},{"s":2,"x":1885,"y":15},{"s":2,"x":1888,"y":20},{"s":2,"x":1891,"y":25},{"s":2,"x":1894,"y":20},{"s":2,"x":1897,"y":30},{"s":2,"x":1900,"y":25},{"s":2,"x":1903,"y":35},{"s":2,"x":1906,"y":30},{"s":2,"x":1909,"y":25},{"s":2,"x":1912,"y":30},{"s":2,"x":1915,"y":25},{"s":2,"x":1918,"y":30},{"s":2,"x":1921,"y":25},{"s":2,"x":1924,"y":35},{"s":2,"x":1927,"y":30},{"s":2,"x":1930,"y":25},{"s":2,"x":1933,"y":35},{"s":2,"x":1936,"y":30},{"s":2,"x":1939,"y":25},{"s":2,"x":1942,"y":30},{"s":2,"x":1945,"y":25},{"s":2,"x":1948,"y":30},{"s":2,"x":1951,"y":35},{"s":2,"x":1954,"y":30},{"s":2,"x":1957,"y":25},{"s":2,"x":1960,"y":20},{"s":2,"x":1963,"y":40},{"s":2,"x":1966,"y":35},{"s":2,"x":1969,"y":20},{"s":2,"x":1972,"y":30},{"s":2,"x":1975,"y":40},{"s":2,"x":1978,"y":35},{"s":2,"x":1981,"y":30},{"s":2,"x":1984,"y":35},{"s":2,"x":1987,"y":25},{"s":2,"x":1990,"y":30},{"s":2,"x":1993,"y":40},{"s":2,"x":1996,"y":30},{"s":2,"x":1999,"y":45},{"s":2,"x":2002,"y":30},{"s":2,"x":2005,"y":35},{"s":2,"x":2008,"y":25},{"s":2,"x":2011,"y":40},{"s":2,"x":2014,"y":30},{"s":2,"x":2017,"y":20},{"s":2,"x":2020,"y":18},{"s":2,"x":2021,"y":22},
{"s":3,"x":1810,"y":60},{"s":3,"x":1813,"y":75},{"s":3,"x":1816,"y":85},{"s":3,"x":1819,"y":70},{"s":3,"x":1822,"y":80},{"s":3,"x":1825,"y":90},{"s":3,"x":1828,"y":110},{"s":3,"x":1831,"y":120},{"s":3,"x":1834,"y":135},{"s":3,"x":1836,"y":145},{"s":3,"x":1839,"y":110},{"s":3,"x":1842,"y":125},{"s":3,"x":1845,"y":140},{"s":3,"x":1848,"y":130},{"s":3,"x":1851,"y":150},{"s":3,"x":1854,"y":135},{"s":3,"x":1857,"y":130},{"s":3,"x":1860,"y":160},{"s":3,"x":1862,"y":150},{"s":3,"x":1865,"y":140},{"s":3,"x":1868,"y":110},{"s":3,"x":1871,"y":100},{"s":3,"x":1874,"y":80},{"s":3,"x":1877,"y":70},{"s":3,"x":1880,"y":45},{"s":3,"x":1883,"y":40},{"s":3,"x":1886,"y":55},{"s":3,"x":1889,"y":65},{"s":3,"x":1892,"y":70},{"s":3,"x":1895,"y":80},{"s":3,"x":1898,"y":95},{"s":3,"x":1901,"y":100},{"s":3,"x":1904,"y":110},{"s":3,"x":1907,"y":105},{"s":3,"x":1910,"y":120},{"s":3,"x":1912,"y":135},{"s":3,"x":1915,"y":125},{"s":3,"x":1918,"y":100},{"s":3,"x":1921,"y":90},{"s":3,"x":1924,"y":105},{"s":3,"x":1927,"y":85},{"s":3,"x":1930,"y":90},{"s":3,"x":1933,"y":100},{"s":3,"x":1936,"y":110},{"s":3,"x":1939,"y":100},{"s":3,"x":1942,"y":120},{"s":3,"x":1944,"y":177},{"s":3,"x":1946,"y":130},{"s":3,"x":1948,"y":110},{"s":3,"x":1950,"y":150},{"s":3,"x":1952,"y":175},{"s":3,"x":1954,"y":120},{"s":3,"x":1957,"y":100},{"s":3,"x":1960,"y":90},{"s":3,"x":1963,"y":204},{"s":3,"x":1965,"y":180},{"s":3,"x":1967,"y":140},{"s":3,"x":1969,"y":120},{"s":3,"x":1971,"y":130},{"s":3,"x":1973,"y":150},{"s":3,"x":1975,"y":170},{"s":3,"x":1977,"y":150},{"s":3,"x":1979,"y":180},{"s":3,"x":1981,"y":120},{"s":3,"x":1983,"y":170},{"s":3,"x":1984,"y":200},{"s":3,"x":1985,"y":210},{"s":3,"x":1986,"y":293},{"s":3,"x":1987,"y":200},{"s":3,"x":1988,"y":190},{"s":3,"x":1990,"y":150},{"s":3,"x":1992,"y":140},{"s":3,"x":1993,"y":170},{"s":3,"x":1995,"y":130},{"s":3,"x":1997,"y":110},{"s":3,"x":1999,"y":140},{"s":3,"x":2001,"y":150},{"s":3,"x":2003,"y":120},{"s":3,"x":2005,"y":130},{"s":3,"x":2007,"y":110},{"s":3,"x":2009,"y":100},{"s":3,"x":2011,"y":150},{"s":3,"x":2012,"y":225},{"s":3,"x":2013,"y":160},{"s":3,"x":2015,"y":90},{"s":3,"x":2017,"y":60},{"s":3,"x":2019,"y":50},{"s":3,"x":2021,"y":60},
{"s":4,"x":1815,"y":50},{"s":4,"x":1818,"y":55},{"s":4,"x":1821,"y":45},{"s":4,"x":1824,"y":60},{"s":4,"x":1827,"y":70},{"s":4,"x":1830,"y":65},{"s":4,"x":1833,"y":80},{"s":4,"x":1836,"y":90},{"s":4,"x":1839,"y":75},{"s":4,"x":1842,"y":80},{"s":4,"x":1845,"y":95},{"s":4,"x":1848,"y":100},{"s":4,"x":1851,"y":110},{"s":4,"x":1854,"y":95},{"s":4,"x":1857,"y":100},{"s":4,"x":1859,"y":120},{"s":4,"x":1860,"y":130},{"s":4,"x":1862,"y":100},{"s":4,"x":1865,"y":175},{"s":4,"x":1866,"y":110},{"s":4,"x":1869,"y":90},{"s":4,"x":1872,"y":70},{"s":4,"x":1875,"y":60},{"s":4,"x":1878,"y":50},{"s":4,"x":1881,"y":30},{"s":4,"x":1884,"y":25},{"s":4,"x":1887,"y":40},{"s":4,"x":1890,"y":45},{"s":4,"x":1893,"y":50},{"s":4,"x":1896,"y":60},{"s":4,"x":1899,"y":55},{"s":4,"x":1902,"y":70},{"s":4,"x":1905,"y":80},{"s":4,"x":1908,"y":65},{"s":4,"x":1911,"y":70},{"s":4,"x":1914,"y":80},{"s":4,"x":1917,"y":75},{"s":4,"x":1920,"y":65},{"s":4,"x":1923,"y":80},{"s":4,"x":1926,"y":70},{"s":4,"x":1929,"y":45},{"s":4,"x":1932,"y":60},{"s":4,"x":1935,"y":70},{"s":4,"x":1938,"y":65},{"s":4,"x":1941,"y":80},{"s":4,"x":1944,"y":100},{"s":4,"x":1947,"y":80},{"s":4,"x":1950,"y":90},{"s":4,"x":1953,"y":100},{"s":4,"x":1956,"y":90},{"s":4,"x":1959,"y":70},{"s":4,"x":1962,"y":120},{"s":4,"x":1965,"y":130},{"s":4,"x":1968,"y":100},{"s":4,"x":1971,"y":90},{"s":4,"x":1974,"y":110},{"s":4,"x":1977,"y":140},{"s":4,"x":1980,"y":110},{"s":4,"x":1983,"y":120},{"s":4,"x":1986,"y":100},{"s":4,"x":1989,"y":110},{"s":4,"x":1992,"y":130},{"s":4,"x":1995,"y":100},{"s":4,"x":1998,"y":120},{"s":4,"x":2000,"y":190},{"s":4,"x":2002,"y":130},{"s":4,"x":2004,"y":235},{"s":4,"x":2006,"y":150},{"s":4,"x":2008,"y":100},{"s":4,"x":2011,"y":130},{"s":4,"x":2014,"y":100},{"s":4,"x":2017,"y":60},{"s":4,"x":2020,"y":40},{"s":4,"x":2021,"y":50},
{"s":5,"x":1830,"y":30},{"s":5,"x":1833,"y":40},{"s":5,"x":1836,"y":45},{"s":5,"x":1839,"y":40},{"s":5,"x":1842,"y":50},{"s":5,"x":1845,"y":55},{"s":5,"x":1848,"y":45},{"s":5,"x":1851,"y":60},{"s":5,"x":1854,"y":50},{"s":5,"x":1857,"y":55},{"s":5,"x":1860,"y":70},{"s":5,"x":1863,"y":60},{"s":5,"x":1866,"y":50},{"s":5,"x":1869,"y":40},{"s":5,"x":1872,"y":35},{"s":5,"x":1875,"y":30},{"s":5,"x":1878,"y":25},{"s":5,"x":1881,"y":15},{"s":5,"x":1884,"y":20},{"s":5,"x":1887,"y":30},{"s":5,"x":1890,"y":35},{"s":5,"x":1893,"y":40},{"s":5,"x":1896,"y":45},{"s":5,"x":1899,"y":50},{"s":5,"x":1902,"y":55},{"s":5,"x":1905,"y":60},{"s":5,"x":1908,"y":50},{"s":5,"x":1911,"y":55},{"s":5,"x":1914,"y":50},{"s":5,"x":1917,"y":55},{"s":5,"x":1920,"y":50},{"s":5,"x":1923,"y":60},{"s":5,"x":1926,"y":50},{"s":5,"x":1929,"y":30},{"s":5,"x":1932,"y":45},{"s":5,"x":1935,"y":50},{"s":5,"x":1938,"y":45},{"s":5,"x":1941,"y":55},{"s":5,"x":1944,"y":60},{"s":5,"x":1947,"y":45},{"s":5,"x":1950,"y":55},{"s":5,"x":1953,"y":50},{"s":5,"x":1956,"y":55},{"s":5,"x":1959,"y":40},{"s":5,"x":1962,"y":70},{"s":5,"x":1965,"y":80},{"s":5,"x":1968,"y":60},{"s":5,"x":1971,"y":55},{"s":5,"x":1974,"y":75},{"s":5,"x":1977,"y":80},{"s":5,"x":1980,"y":60},{"s":5,"x":1983,"y":70},{"s":5,"x":1986,"y":65},{"s":5,"x":1989,"y":75},{"s":5,"x":1992,"y":80},{"s":5,"x":1995,"y":65},{"s":5,"x":1998,"y":70},{"s":5,"x":2001,"y":90},{"s":5,"x":2004,"y":80},{"s":5,"x":2007,"y":60},{"s":5,"x":2010,"y":45},{"s":5,"x":2013,"y":60},{"s":5,"x":2016,"y":40},{"s":5,"x":2019,"y":30},{"s":5,"x":2021,"y":35},
{"s":6,"x":1900,"y":70},{"s":6,"x":1903,"y":85},{"s":6,"x":1906,"y":90},{"s":6,"x":1909,"y":80},{"s":6,"x":1912,"y":120},{"s":6,"x":1915,"y":100},{"s":6,"x":1918,"y":90},{"s":6,"x":1921,"y":80},{"s":6,"x":1924,"y":95},{"s":6,"x":1927,"y":75},{"s":6,"x":1930,"y":70},{"s":6,"x":1933,"y":85},{"s":6,"x":1936,"y":90},{"s":6,"x":1939,"y":80},{"s":6,"x":1942,"y":100},{"s":6,"x":1945,"y":120},{"s":6,"x":1948,"y":100},{"s":6,"x":1950,"y":165},{"s":6,"x":1952,"y":130},{"s":6,"x":1955,"y":110},{"s":6,"x":1958,"y":100},{"s":6,"x":1961,"y":120},{"s":6,"x":1964,"y":150},{"s":6,"x":1967,"y":130},{"s":6,"x":1970,"y":110},{"s":6,"x":1973,"y":130},{"s":6,"x":1976,"y":150},{"s":6,"x":1979,"y":170},{"s":6,"x":1982,"y":140},{"s":6,"x":1985,"y":160},{"s":6,"x":1988,"y":130},{"s":6,"x":1991,"y":180},{"s":6,"x":1993,"y":150},{"s":6,"x":1996,"y":120},{"s":6,"x":1999,"y":160},{"s":6,"x":2001,"y":200},{"s":6,"x":2003,"y":140},{"s":6,"x":2005,"y":130},{"s":6,"x":2008,"y":120},{"s":6,"x":2010,"y":110},{"s":6,"x":2012,"y":150},{"s":6,"x":2014,"y":100},{"s":6,"x":2017,"y":70},{"s":6,"x":2020,"y":55},{"s":6,"x":2021,"y":60},
{"s":7,"x":1940,"y":90},{"s":7,"x":1942,"y":110},{"s":7,"x":1944,"y":165},{"s":7,"x":1946,"y":120},{"s":7,"x":1948,"y":100},{"s":7,"x":1950,"y":130},{"s":7,"x":1952,"y":120},{"s":7,"x":1954,"y":100},{"s":7,"x":1956,"y":110},{"s":7,"x":1958,"y":90},{"s":7,"x":1960,"y":100},{"s":7,"x":1962,"y":150},{"s":7,"x":1964,"y":170},{"s":7,"x":1966,"y":140},{"s":7,"x":1968,"y":170},{"s":7,"x":1970,"y":120},{"s":7,"x":1972,"y":140},{"s":7,"x":1974,"y":130},{"s":7,"x":1976,"y":150},{"s":7,"x":1978,"y":120},{"s":7,"x":1980,"y":140},{"s":7,"x":1982,"y":160},{"s":7,"x":1984,"y":170},{"s":7,"x":1986,"y":190},{"s":7,"x":1988,"y":150},{"s":7,"x":1990,"y":140},{"s":7,"x":1992,"y":160},{"s":7,"x":1994,"y":170},{"s":7,"x":1996,"y":130},{"s":7,"x":1998,"y":150},{"s":7,"x":2000,"y":170},{"s":7,"x":2002,"y":150},{"s":7,"x":2004,"y":180},{"s":7,"x":2006,"y":140},{"s":7,"x":2008,"y":110},{"s":7,"x":2010,"y":180},{"s":7,"x":2012,"y":160},{"s":7,"x":2014,"y":120},{"s":7,"x":2016,"y":100},{"s":7,"x":2018,"y":70},{"s":7,"x":2020,"y":55},{"s":7,"x":2021,"y":85},
{"s":8,"x":1950,"y":60},{"s":8,"x":1953,"y":70},{"s":8,"x":1956,"y":65},{"s":8,"x":1959,"y":55},{"s":8,"x":1962,"y":90},{"s":8,"x":1965,"y":100},{"s":8,"x":1968,"y":80},{"s":8,"x":1971,"y":75},{"s":8,"x":1974,"y":95},{"s":8,"x":1977,"y":110},{"s":8,"x":1980,"y":85},{"s":8,"x":1983,"y":100},{"s":8,"x":1986,"y":90},{"s":8,"x":1989,"y":120},{"s":8,"x":1992,"y":115},{"s":8,"x":1995,"y":95},{"s":8,"x":1998,"y":100},{"s":8,"x":2000,"y":120},{"s":8,"x":2002,"y":90},{"s":8,"x":2005,"y":110},{"s":8,"x":2008,"y":80},{"s":8,"x":2011,"y":110},{"s":8,"x":2014,"y":80},{"s":8,"x":2017,"y":50},{"s":8,"x":2020,"y":35},{"s":8,"x":2021,"y":40},
{"s":9,"x":1815,"y":20},{"s":9,"x":1818,"y":30},{"s":9,"x":1821,"y":25},{"s":9,"x":1824,"y":35},{"s":9,"x":1827,"y":30},{"s":9,"x":1830,"y":40},{"s":9,"x":1833,"y":35},{"s":9,"x":1836,"y":30},{"s":9,"x":1839,"y":35},{"s":9,"x":1842,"y":40},{"s":9,"x":1845,"y":30},{"s":9,"x":1848,"y":35},{"s":9,"x":1851,"y":30},{"s":9,"x":1854,"y":25},{"s":9,"x":1857,"y":30},{"s":9,"x":1860,"y":25},{"s":9,"x":1863,"y":20},{"s":9,"x":1866,"y":25},{"s":9,"x":1869,"y":15},{"s":9,"x":1872,"y":20},{"s":9,"x":1875,"y":15},{"s":9,"x":1878,"y":10},{"s":9,"x":1881,"y":5},{"s":9,"x":1884,"y":10},{"s":9,"x":1887,"y":15},{"s":9,"x":1890,"y":20},{"s":9,"x":1893,"y":25},{"s":9,"x":1896,"y":30},{"s":9,"x":1899,"y":35},{"s":9,"x":1902,"y":30},{"s":9,"x":1905,"y":40},{"s":9,"x":1908,"y":35},{"s":9,"x":1911,"y":40},{"s":9,"x":1914,"y":35},{"s":9,"x":1917,"y":40},{"s":9,"x":1920,"y":35},{"s":9,"x":1923,"y":45},{"s":9,"x":1926,"y":40},{"s":9,"x":1929,"y":25},{"s":9,"x":1932,"y":35},{"s":9,"x":1935,"y":40},{"s":9,"x":1938,"y":30},{"s":9,"x":1941,"y":40},{"s":9,"x":1944,"y":45},{"s":9,"x":1947,"y":35},{"s":9,"x":1950,"y":40},{"s":9,"x":1953,"y":35},{"s":9,"x":1956,"y":30},{"s":9,"x":1959,"y":25},{"s":9,"x":1962,"y":40},{"s":9,"x":1965,"y":45},{"s":9,"x":1968,"y":30},{"s":9,"x":1971,"y":25},{"s":9,"x":1974,"y":35},{"s":9,"x":1977,"y":45},{"s":9,"x":1980,"y":30},{"s":9,"x":1983,"y":40},{"s":9,"x":1986,"y":35},{"s":9,"x":1989,"y":50},{"s":9,"x":1992,"y":45},{"s":9,"x":1995,"y":35},{"s":9,"x":1998,"y":40},{"s":9,"x":2001,"y":50},{"s":9,"x":2004,"y":45},{"s":9,"x":2007,"y":30},{"s":9,"x":2010,"y":25},{"s":9,"x":2013,"y":35},{"s":9,"x":2016,"y":25},{"s":9,"x":2019,"y":20},{"s":9,"x":2021,"y":25}]
},
"vconcat":[
{"width":1294,"height":365,"title":{"text":"a","offset":-66},
"encoding":{"x":{"field":"x","type":"quantitative","scale":{"domain":[1875,2025],"nice":false,"zero":false},"axis":{"values":[1880,1890,1900,1910,1920,1930,1940,1950,1960,1970,1980,1990,2000,2010,2020],"format":"d","title":" ","titleFontSize":8,"titlePadding":0}},"y":{"field":"y","type":"quantitative","scale":{"domain":[0,500],"nice":false},"axis":{"values":[0,100,200,300,400,500],"title":null}}},
"layer":[
{"data":{"name":"ai"},"mark":{"type":"line","strokeWidth":1.4},"encoding":{"detail":{"field":"s"},"stroke":{"datum":"Individual chronology","scale":{"range":["#a6a6a6"]},"legend":{"legendY":58,"labelFontWeight":"normal","symbolStrokeWidth":1.5,"title":null}}}},
{"data":{"name":"am"},"mark":{"type":"line","strokeWidth":4.5},"encoding":{"color":{"datum":"Master chronology","scale":{"range":["black"]},"legend":{"legendY":12,"labelFontWeight":"bold","symbolStrokeWidth":5,"title":null}}}}
]},
{"width":1294,"height":365,"title":{"text":"b","offset":-78},
"encoding":{"x":{"field":"x","type":"quantitative","scale":{"domain":[1855,2025],"nice":false,"zero":false},"axis":{"values":[1860,1870,1880,1890,1900,1910,1920,1930,1940,1950,1960,1970,1980,1990,2000,2010,2020],"format":"d","title":null}},"y":{"field":"y","type":"quantitative","scale":{"domain":[0,500],"nice":false},"axis":{"values":[0,100,200,300,400,500],"title":"Ring width (0.01 mm)"}}},
"layer":[
{"data":{"name":"bi"},"mark":{"type":"line","strokeWidth":1.4},"encoding":{"detail":{"field":"s"},"stroke":{"datum":"Individual chronology","scale":{"range":["#a6a6a6"]},"legend":{"legendY":62,"labelFontWeight":"normal","symbolStrokeWidth":1.5,"title":null}}}},
{"data":{"name":"bm"},"mark":{"type":"line","strokeWidth":4.5},"encoding":{"color":{"datum":"Master chronology","scale":{"range":["black"]},"legend":{"legendY":15,"labelFontWeight":"bold","symbolStrokeWidth":5,"title":null}}}}
]},
{"width":1294,"height":365,"title":{"text":"c","offset":-75},
"encoding":{"x":{"field":"x","type":"quantitative","scale":{"domain":[1650,2025],"nice":false,"zero":false},"axis":{"values":[1660,1680,1700,1720,1740,1760,1780,1800,1820,1840,1860,1880,1900,1920,1940,1960,1980,2000,2020],"format":"d","title":"Year"}},"y":{"field":"y","type":"quantitative","scale":{"domain":[0,500],"nice":false},"axis":{"values":[0,100,200,300,400,500],"title":null}}},
"layer":[
{"data":{"name":"ci"},"mark":{"type":"line","strokeWidth":1.4},"encoding":{"detail":{"field":"s"},"stroke":{"datum":"Individual chronology","scale":{"range":["#a6a6a6"]},"legend":{"legendY":64,"labelFontWeight":"normal","symbolStrokeWidth":1.5,"title":null}}}},
{"data":{"name":"cm"},"mark":{"type":"line","strokeWidth":4.5},"encoding":{"color":{"datum":"Master chronology","scale":{"range":["black"]},"legend":{"legendY":15,"labelFontWeight":"bold","symbolStrokeWidth":5,"title":null}}}}
]}
]
}
